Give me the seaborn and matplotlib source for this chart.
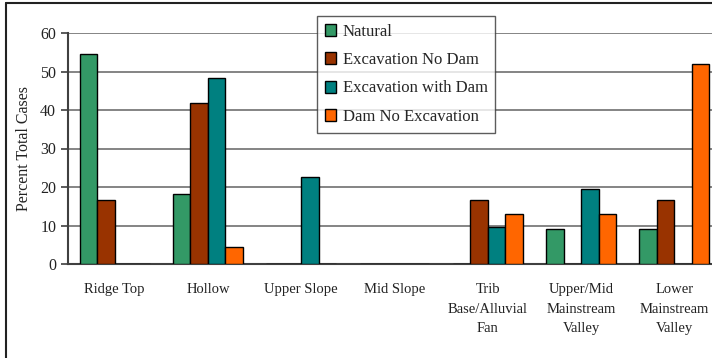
import matplotlib
matplotlib.use("Agg")
import matplotlib.pyplot as plt
from matplotlib.lines import Line2D
import seaborn as sns
import pandas as pd
import numpy as np

# ======================
# data
# ======================
categories = ["Ridge Top", "Hollow", "Upper Slope", "Mid Slope",
              "Trib\nBase/Alluvial\nFan", "Upper/Mid\nMainstream\nValley",
              "Lower\nMainstream\nValley"]
series = ["Natural", "Excavation No Dam", "Excavation with Dam", "Dam No Excavation"]
natural = [54.5, 18.2, 0, 0, 0, 9.1, 9.1]
excavation_no_dam = [16.7, 41.7, 0, 0, 16.7, 0, 16.7]
excavation_with_dam = [0, 48.4, 22.6, 0, 9.7, 19.4, 0]
dam_no_excavation = [0, 4.5, 0, 0, 13.0, 13.0, 51.9]
colors = ["#339966", "#993300", "#008080", "#FF6600"]
y_ticks = [0, 10, 20, 30, 40, 50, 60]

rows = []
for name, vals in zip(series, [natural, excavation_no_dam, excavation_with_dam, dam_no_excavation]):
    for cat, v in zip(categories, vals):
        rows.append({"Category": cat, "Series": name, "Value": v})
df = pd.DataFrame(rows)

sns.set_theme(style="white")
plt.rcParams["font.family"] = ["Liberation Serif", "DejaVu Serif"]

fig = plt.figure(figsize=(7.12, 3.58), dpi=100)
ax = fig.add_axes([68 / 712, 1 - 264 / 358, 653 / 712, (264 - 33) / 358])

sns.barplot(data=df, x="Category", y="Value", hue="Series", order=categories,
            hue_order=series, palette=colors, width=0.75, edgecolor="black",
            linewidth=1.0, saturation=1, ax=ax, zorder=3)

ax.set_xlim(-0.5, len(categories) - 0.5)
ax.set_ylim(0, 60)
ax.set_yticks(y_ticks)
ax.yaxis.grid(True, color="#707070", linewidth=1.2, zorder=0)
ax.set_axisbelow(True)

# x ticks at category boundaries, labels centred
ax.set_xticks(np.arange(len(categories)))
ax.set_xticklabels(categories, fontsize=10.5, color="#222222", linespacing=1.65)
ax.tick_params(axis="x", which="major", length=0, pad=14)
ax.set_xticks(np.arange(len(categories) + 1) - 0.5, minor=True)
ax.tick_params(axis="x", which="minor", direction="out", length=5, color="#404040", width=1.2)
ax.tick_params(axis="y", direction="out", length=5, color="#404040", width=1.2,
               labelsize=11.5, labelcolor="#222222", left=True)

ax.set_xlabel("")
ax.set_ylabel("Percent Total Cases", fontsize=11.5, color="#222222", labelpad=6)

for side in ["top", "right"]:
    ax.spines[side].set_visible(False)
for side in ["left", "bottom"]:
    ax.spines[side].set_color("#404040")
    ax.spines[side].set_linewidth(1.5)

leg = ax.legend(loc="upper left", bbox_to_anchor=(317 / 712, 1 - 16 / 358),
                bbox_transform=fig.transFigure, frameon=True, fancybox=False,
                fontsize=12, handlelength=0.7, handleheight=0.7,
                handletextpad=0.4, labelspacing=0.75, borderpad=0.45,
                borderaxespad=0)
leg.get_frame().set_edgecolor("#333333")
leg.get_frame().set_linewidth(1.0)
for h in leg.legend_handles:
    h.set_edgecolor("black")

# outer chart border (left and top visible)
fig.add_artist(Line2D([6 / 712, 6 / 712], [0, 1 - 3 / 358], color="#222222",
                      linewidth=1.5, transform=fig.transFigure))
fig.add_artist(Line2D([6 / 712, 1], [1 - 3 / 358, 1 - 3 / 358], color="#222222",
                      linewidth=1.5, transform=fig.transFigure))

fig.savefig("out.png", dpi=100)
